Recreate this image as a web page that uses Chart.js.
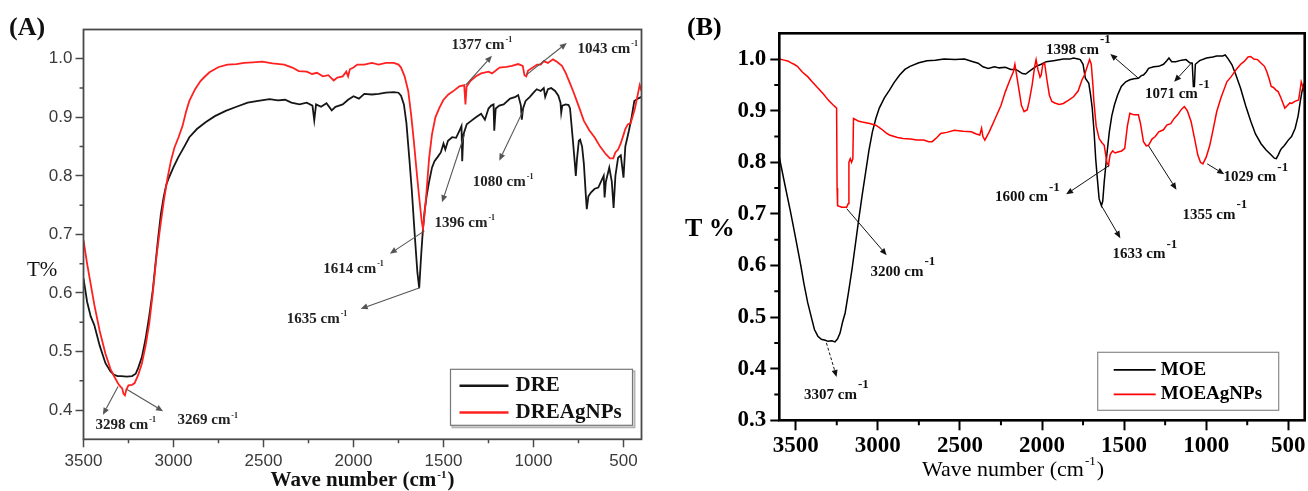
<!DOCTYPE html>
<html><head><meta charset="utf-8">
<script src="https://cdn.jsdelivr.net/npm/chart.js@4.4.1/dist/chart.umd.min.js"></script>
<style>
html,body{margin:0;padding:0;background:#fff;}
#wrap{position:relative;width:1308px;height:491px;overflow:hidden;}
#ca{position:absolute;left:0;top:0;}
#cb{position:absolute;left:650px;top:0;}
</style></head><body>
<div id="wrap"><canvas id="ca" width="650" height="491"></canvas><canvas id="cb" width="658" height="491"></canvas></div>
<script>
// ---------------- Panel (A) data ----------------
const dreWave = [3500,3480,3460,3440,3410,3378,3350,3330,3310,3290,3260,3230,3210,3196,3176,3156,3135,3115,3100,3085,3070,3054,3040,3024,3000,2973,2940,2912,2870,2820,2770,2710,2650,2588,2530,2466,2420,2380,2345,2300,2260,2228,2218,2208,2180,2150,2121,2100,2080,2060,2030,2000,1970,1940,1898,1860,1820,1776,1750,1736,1720,1706,1690,1676,1660,1645,1635,1625,1615,1605,1594,1580,1564,1550,1533,1515,1500,1490,1475,1452,1430,1410,1400,1396,1390,1371,1350,1320,1291,1270,1250,1235,1222,1218,1210,1190,1166,1130,1100,1085,1070,1065,1058,1044,1020,1000,982,960,943,935,920,902,880,862,850,846,840,821,805,797,781,770,765,758,748,741,730,720,710,704,695,680,660,640,625,610,605,598,579,565,555,545,530,515,500,490,470,455,440,420,400];
const dreT = [0.625,0.585,0.56,0.545,0.51,0.48,0.466,0.46,0.458,0.458,0.457,0.458,0.462,0.472,0.49,0.52,0.56,0.605,0.65,0.695,0.735,0.765,0.785,0.798,0.815,0.832,0.85,0.866,0.88,0.892,0.902,0.911,0.918,0.925,0.928,0.931,0.929,0.93,0.925,0.922,0.925,0.92,0.895,0.922,0.918,0.924,0.912,0.918,0.92,0.922,0.93,0.936,0.932,0.94,0.939,0.94,0.942,0.943,0.942,0.937,0.922,0.89,0.83,0.775,0.7,0.635,0.608,0.66,0.706,0.74,0.765,0.79,0.814,0.825,0.832,0.84,0.855,0.845,0.86,0.866,0.865,0.878,0.885,0.825,0.87,0.888,0.893,0.9,0.906,0.896,0.915,0.92,0.922,0.877,0.915,0.92,0.922,0.932,0.935,0.938,0.92,0.896,0.915,0.928,0.935,0.942,0.948,0.945,0.95,0.935,0.948,0.95,0.945,0.937,0.925,0.908,0.92,0.922,0.921,0.915,0.86,0.82,0.8,0.83,0.86,0.862,0.85,0.82,0.77,0.743,0.765,0.772,0.778,0.78,0.79,0.8,0.763,0.79,0.814,0.79,0.745,0.8,0.831,0.835,0.797,0.85,0.877,0.9,0.928,0.932,0.935];
const dreAgWave = [3500,3480,3460,3440,3410,3378,3350,3327,3307,3295,3285,3278,3270,3262,3250,3230,3216,3196,3176,3155,3135,3115,3095,3075,3054,3034,3014,2995,2973,2950,2930,2912,2880,2850,2831,2800,2749,2700,2650,2608,2560,2507,2450,2385,2340,2304,2260,2230,2203,2170,2140,2110,2090,2060,2040,2030,2020,2000,1979,1940,1898,1860,1820,1776,1750,1736,1716,1696,1680,1665,1650,1635,1622,1614,1605,1594,1580,1564,1545,1523,1500,1473,1440,1412,1385,1378,1372,1351,1320,1291,1250,1230,1189,1150,1120,1085,1060,1050,1040,1030,1004,980,960,943,920,892,870,842,820,800,780,750,720,690,659,630,598,575,557,545,530,516,500,490,476,460,436,420,410,400];
const dreAgT = [0.69,0.65,0.615,0.58,0.535,0.496,0.47,0.456,0.445,0.44,0.437,0.428,0.425,0.435,0.442,0.443,0.446,0.46,0.479,0.51,0.547,0.6,0.661,0.71,0.757,0.795,0.826,0.848,0.865,0.885,0.91,0.928,0.948,0.962,0.968,0.977,0.986,0.99,0.991,0.993,0.994,0.995,0.992,0.99,0.985,0.979,0.978,0.974,0.976,0.97,0.972,0.963,0.968,0.97,0.978,0.97,0.982,0.985,0.99,0.99,0.993,0.99,0.993,0.993,0.99,0.985,0.97,0.945,0.905,0.86,0.81,0.763,0.725,0.709,0.735,0.774,0.83,0.871,0.9,0.916,0.93,0.939,0.946,0.953,0.955,0.922,0.952,0.962,0.97,0.975,0.978,0.975,0.985,0.986,0.988,0.991,0.988,0.972,0.97,0.98,0.985,0.99,0.99,0.996,0.993,0.999,0.995,0.988,0.975,0.96,0.945,0.92,0.894,0.878,0.865,0.85,0.837,0.83,0.83,0.84,0.845,0.855,0.87,0.88,0.888,0.89,0.916,0.94,0.955,0.945];
const aXMajor = [500,1000,1500,2000,2500,3000,3500];
const aXMinor = [750,1250,1750,2250,2750,3250];
const aYMajor = [0.4,0.5,0.6,0.7,0.8,0.9,1.0];
const aYMinor = [0.45,0.55,0.65,0.75,0.85,0.95];
const aNotes = [
  {peak:'1377', at:[1308,1.024], from:[1377,0.955], to:[1231,1.005]},
  {peak:'1043', at:[609,1.016],  from:[1038,0.973], to:[815,1.027]},
  {peak:'1080', at:[1190,0.789], from:[1058,0.911], to:[1190,0.826]},
  {peak:'1396', at:[1403,0.719], from:[1383,0.871], to:[1508,0.755]},
  {peak:'1614', at:[2021,0.641], from:[1606,0.706], to:[1798,0.667]},
  {peak:'1635', at:[2224,0.556], from:[1632,0.609], to:[1960,0.573]},
  {peak:'3298', at:[3287,0.374], from:[3308,0.44],  to:[3392,0.392]},
  {peak:'3269', at:[2831,0.382], from:[3258,0.435], to:[3058,0.398]}
];

// ---------------- Panel (B) data ----------------
const moeWave = [3600,3565,3531,3500,3469,3450,3427,3405,3386,3365,3344,3320,3303,3280,3261,3245,3230,3215,3199,3180,3157,3137,3116,3095,3074,3054,3033,3012,2991,2960,2929,2900,2867,2835,2804,2750,2700,2650,2597,2530,2472,2430,2389,2360,2327,2290,2260,2223,2190,2160,2140,2120,2099,2070,2036,2005,1974,1930,1870,1830,1808,1780,1767,1750,1736,1715,1704,1694,1683,1673,1662,1652,1638,1630,1621,1605,1590,1575,1559,1540,1517,1490,1465,1440,1413,1395,1382,1365,1351,1320,1289,1260,1240,1227,1210,1185,1150,1123,1100,1085,1078,1072,1066,1040,998,960,936,900,884,865,843,820,791,760,728,700,666,635,604,585,573,560,550,541,525,500,480,458,440,427,415,406,400];
const moeT = [0.81,0.755,0.703,0.652,0.6,0.565,0.528,0.5,0.476,0.463,0.457,0.455,0.453,0.454,0.452,0.458,0.469,0.49,0.508,0.545,0.593,0.64,0.69,0.737,0.781,0.823,0.859,0.885,0.905,0.925,0.94,0.955,0.969,0.98,0.986,0.993,0.997,0.998,1.0,0.999,1.0,0.996,0.992,0.985,0.982,0.985,0.983,0.984,0.98,0.98,0.976,0.972,0.971,0.978,0.986,0.99,0.995,0.997,1.0,1.0,1.002,1.0,0.999,0.99,0.963,0.953,0.93,0.905,0.86,0.807,0.765,0.729,0.716,0.725,0.762,0.815,0.859,0.89,0.911,0.93,0.947,0.956,0.96,0.962,0.963,0.968,0.969,0.975,0.982,0.985,0.986,0.99,0.997,1.002,0.995,0.995,0.998,0.999,0.993,0.992,0.947,0.947,0.99,0.997,1.002,1.004,1.006,1.006,1.008,1.0,0.989,0.97,0.944,0.91,0.879,0.855,0.836,0.824,0.814,0.808,0.807,0.815,0.822,0.827,0.832,0.843,0.85,0.866,0.89,0.918,0.94,0.95,0.955];
const moeAgWave = [3600,3570,3545,3531,3510,3490,3460,3427,3400,3365,3330,3303,3275,3251,3248,3245,3220,3190,3180,3176,3168,3160,3152,3148,3120,3095,3050,3012,2980,2950,2929,2880,2846,2800,2763,2720,2690,2669,2640,2617,2580,2534,2480,2431,2400,2379,2368,2360,2348,2320,2285,2250,2223,2195,2175,2165,2155,2140,2125,2109,2090,2078,2060,2045,2036,2025,2012,2005,1995,1984,1970,1955,1940,1922,1895,1870,1840,1808,1780,1756,1740,1725,1710,1700,1690,1684,1670,1652,1635,1621,1605,1595,1585,1570,1555,1538,1515,1496,1480,1465,1440,1413,1400,1382,1365,1351,1330,1310,1289,1260,1240,1216,1195,1174,1150,1133,1115,1092,1070,1051,1035,1020,1000,978,960,936,910,874,850,812,790,770,745,729,710,687,665,645,630,615,604,590,575,562,545,521,505,490,479,460,437,428,421,415,406,400];
const moeAgT = [1.0,0.998,0.996,0.993,0.99,0.986,0.975,0.966,0.956,0.944,0.932,0.921,0.912,0.905,0.75,0.716,0.713,0.713,0.72,0.8,0.807,0.8,0.807,0.885,0.88,0.878,0.875,0.872,0.865,0.857,0.853,0.848,0.846,0.845,0.843,0.843,0.84,0.84,0.848,0.856,0.858,0.862,0.86,0.859,0.855,0.853,0.866,0.85,0.843,0.86,0.885,0.91,0.937,0.96,0.975,0.99,0.97,0.94,0.91,0.898,0.902,0.918,0.95,0.985,0.999,0.98,0.965,0.969,0.99,0.992,0.96,0.93,0.918,0.915,0.912,0.914,0.92,0.927,0.938,0.96,0.97,0.985,0.999,0.99,0.95,0.918,0.87,0.846,0.838,0.833,0.8,0.794,0.815,0.822,0.818,0.82,0.822,0.827,0.87,0.895,0.892,0.892,0.875,0.84,0.832,0.833,0.845,0.85,0.859,0.863,0.872,0.875,0.885,0.892,0.903,0.908,0.9,0.879,0.845,0.814,0.8,0.797,0.81,0.833,0.86,0.898,0.925,0.956,0.965,0.982,0.99,0.995,1.004,1.005,1.0,0.999,0.992,0.986,0.975,0.96,0.947,0.945,0.94,0.937,0.925,0.905,0.91,0.915,0.914,0.918,0.921,0.94,0.956,0.95,0.94,0.945];
const bXMajor = [500,1000,1500,2000,2500,3000,3500];
const bXMinor = [750,1250,1750,2250,2750,3250];
const bYMajor = [0.3,0.4,0.5,0.6,0.7,0.8,0.9,1.0];
const bYMinor = [0.35,0.45,0.55,0.65,0.75,0.85,0.95];
const bNotes = [
  {peak:'1398', at:[1814,1.018], from:[1413,0.963], to:[1584,1.01]},
  {peak:'1071', at:[1212,0.932], from:[1091,0.992], to:[1195,0.956]},
  {peak:'1029', at:[734,0.771],  from:[994,0.797],  to:[890,0.777]},
  {peak:'1355', at:[983,0.698],  from:[1351,0.832], to:[1181,0.747]},
  {peak:'1600', at:[2125,0.732], from:[1590,0.794], to:[1853,0.738]},
  {peak:'1633', at:[1409,0.622], from:[1638,0.716], to:[1523,0.653]},
  {peak:'3200', at:[2883,0.588], from:[3189,0.71],  to:[2946,0.62]},
  {peak:'3307', at:[3288,0.349], from:[3313,0.45],  to:[3251,0.384], dashed:true}
];

// ---------------- helpers ----------------
const SERIF = "'Liberation Serif','Times New Roman',serif";
const SANS = "'Liberation Sans',Arial,sans-serif";
const pts = (xs, ys) => xs.map((x, i) => ({x: x, y: ys[i]}));

function arrow(ctx, x1, y1, x2, y2, color, lw, dashed) {
  ctx.save();
  ctx.strokeStyle = color; ctx.fillStyle = color; ctx.lineWidth = lw;
  const a = Math.atan2(y2 - y1, x2 - x1), hl = 7, hw = 3;
  const bx = x2 - hl * Math.cos(a), by = y2 - hl * Math.sin(a);
  if (dashed) ctx.setLineDash([3, 2]);
  ctx.beginPath(); ctx.moveTo(x1, y1); ctx.lineTo(bx, by); ctx.stroke();
  ctx.setLineDash([]);
  ctx.beginPath(); ctx.moveTo(x2, y2);
  ctx.lineTo(bx + hw * Math.sin(a), by - hw * Math.cos(a));
  ctx.lineTo(bx - hw * Math.sin(a), by + hw * Math.cos(a));
  ctx.closePath(); ctx.fill();
  ctx.restore();
}
function rich(ctx, cx, cy, main, sup, tail, mf, sf, raise, centerAll, color) {
  ctx.save();
  ctx.fillStyle = color; ctx.textBaseline = 'middle'; ctx.textAlign = 'left';
  ctx.font = mf; const wm = ctx.measureText(main).width; const wt = tail ? ctx.measureText(tail).width : 0;
  ctx.font = sf; const ws = ctx.measureText(sup).width;
  const x0 = centerAll ? cx - (wm + ws + wt + 2) / 2 : cx - wm / 2;
  ctx.font = mf; ctx.fillText(main, x0, cy);
  ctx.font = sf; ctx.fillText(sup, x0 + wm + 1, cy - raise);
  if (tail) { ctx.font = mf; ctx.fillText(tail, x0 + wm + ws + 2, cy); }
  ctx.restore();
}
function minorTicks(ctx, sx, sy, xs, ys, ca, len, color, lw) {
  ctx.save(); ctx.strokeStyle = color; ctx.lineWidth = lw; ctx.beginPath();
  xs.forEach(v => { const p = sx.getPixelForValue(v); ctx.moveTo(p, ca.bottom); ctx.lineTo(p, ca.bottom + len); });
  ys.forEach(v => { const p = sy.getPixelForValue(v); ctx.moveTo(ca.left, p); ctx.lineTo(ca.left - len, p); });
  ctx.stroke(); ctx.restore();
}

function makeScales(o) {
  return {
    x: {
      type: 'linear', reverse: true, min: o.xmin, max: o.xmax,
      afterBuildTicks: s => { s.ticks = o.xMajor.map(v => ({value: v})); },
      afterFit: s => { s.height = o.xAxisH; },
      border: {display: false},
      grid: {drawOnChartArea: false, drawTicks: true, tickLength: o.xTickLen, tickColor: o.axisColor, tickWidth: o.tickW},
      ticks: {autoSkip: false, maxRotation: 0, padding: o.xPad, color: o.labelColor,
              font: o.tickFont, callback: v => String(v)}
    },
    y: {
      type: 'linear', min: o.ymin, max: o.ymax,
      afterBuildTicks: s => { s.ticks = o.yMajor.map(v => ({value: v})); },
      afterFit: s => { s.width = o.yAxisW; },
      border: {display: false},
      grid: {drawOnChartArea: false, drawTicks: true, tickLength: o.yTickLen, tickColor: o.axisColor, tickWidth: o.tickW},
      ticks: {autoSkip: false, padding: o.yPad, color: o.labelColor, font: o.tickFont,
              callback: v => Number(v).toFixed(1)}
    }
  };
}

// ---------------- Chart (A) ----------------
const decorA = {
  id: 'decorA',
  afterDraw(chart) {
    const {ctx, chartArea: ca, scales: {x, y}} = chart;
    ctx.save();
    ctx.strokeStyle = '#4a4a4a'; ctx.lineWidth = 1.8;
    ctx.strokeRect(ca.left, ca.top, ca.right - ca.left, ca.bottom - ca.top);
    minorTicks(ctx, x, y, aXMinor, aYMinor, ca, 4, '#4a4a4a', 1.5);
    ctx.fillStyle = '#111'; ctx.textBaseline = 'middle'; ctx.textAlign = 'left';
    ctx.font = 'bold 26px ' + SERIF; ctx.fillText('(A)', 9, 28);
    ctx.font = '21px ' + SERIF; ctx.fillText('T%', 27, 270);
    rich(ctx, (ca.left + ca.right) / 2, 481, 'Wave number (cm', '-1', ')', 'bold 21px ' + SERIF, 'bold 11px ' + SERIF, 6, true, '#111');
    // legend
    const lx = ca.right - 191, ly = ca.bottom - 70, lw = 182, lh = 56;
    ctx.strokeStyle = '#b5b5b5'; ctx.lineWidth = 2; ctx.strokeRect(lx + 2, ly + 2, lw, lh);
    ctx.fillStyle = '#fff'; ctx.fillRect(lx, ly, lw, lh);
    ctx.strokeStyle = '#777'; ctx.lineWidth = 1.2; ctx.strokeRect(lx, ly, lw, lh);
    chart.data.datasets.forEach((ds, i) => {
      const yy = ly + 16.5 + i * 26.7;
      ctx.strokeStyle = ds.borderColor; ctx.lineWidth = 2.4;
      ctx.beginPath(); ctx.moveTo(lx + 9, yy); ctx.lineTo(lx + 58, yy); ctx.stroke();
      ctx.fillStyle = '#111'; ctx.font = 'bold 21px ' + SERIF; ctx.textBaseline = 'middle';
      ctx.fillText(ds.label, lx + 65, yy);
    });
    aNotes.forEach(n => {
      arrow(ctx, x.getPixelForValue(n.from[0]), y.getPixelForValue(n.from[1]),
            x.getPixelForValue(n.to[0]), y.getPixelForValue(n.to[1]), '#555', 1.1, false);
      rich(ctx, x.getPixelForValue(n.at[0]), y.getPixelForValue(n.at[1]), n.peak + ' cm', '-1', '',
           'bold 15px ' + SERIF, 'bold 8px ' + SERIF, 5, false, '#222');
    });
    ctx.restore();
  }
};
new Chart(document.getElementById('ca'), {
  type: 'line',
  data: {datasets: [
    {label: 'DRE', data: pts(dreWave, dreT), borderColor: '#161616', borderWidth: 1.8, pointRadius: 0, tension: 0, order: 1},
    {label: 'DREAgNPs', data: pts(dreAgWave, dreAgT), borderColor: '#ff2020', borderWidth: 1.8, pointRadius: 0, tension: 0, order: 0}
  ]},
  options: {
    responsive: false, animation: false, devicePixelRatio: 1,
    layout: {padding: {left: 0, top: 29.5, right: 8.5, bottom: 0}},
    plugins: {legend: {display: false}, tooltip: {enabled: false}},
    scales: makeScales({xmin: 400, xmax: 3500, ymin: 0.35, ymax: 1.05, xMajor: aXMajor, yMajor: aYMajor,
      xAxisH: 51.7, yAxisW: 83.5, xTickLen: 8, yTickLen: 8, xPad: 4, yPad: 3, axisColor: '#4a4a4a', tickW: 1.5,
      labelColor: '#3a3a3a', tickFont: {family: SANS, size: 17}})
  },
  plugins: [decorA]
});

// ---------------- Chart (B) ----------------
const decorB = {
  id: 'decorB',
  afterDraw(chart) {
    const {ctx, chartArea: ca, scales: {x, y}} = chart;
    ctx.save();
    ctx.strokeStyle = '#000'; ctx.lineWidth = 2.6;
    ctx.strokeRect(ca.left, ca.top, ca.right - ca.left, ca.bottom - ca.top);
    minorTicks(ctx, x, y, bXMinor, bYMinor, ca, 5, '#000', 2);
    ctx.fillStyle = '#000'; ctx.textBaseline = 'middle'; ctx.textAlign = 'left';
    ctx.font = 'bold 26px ' + SERIF; ctx.fillText('(B)', 37, 28);
    ctx.font = 'bold 26px ' + SERIF; ctx.fillText('T %', 35, 229);
    rich(ctx, 363, 470, 'Wave number (cm', '-1', ')', '22px ' + SERIF, '13px ' + SERIF, 8, true, '#000');
    // legend
    const lx = ca.right - 207, ly = ca.bottom - 68, lw = 181, lh = 58;
    ctx.strokeStyle = '#8a8a8a'; ctx.lineWidth = 1.2; ctx.strokeRect(lx, ly, lw, lh);
    chart.data.datasets.forEach((ds, i) => {
      const yy = ly + 17.5 + i * 24.5;
      ctx.strokeStyle = ds.borderColor; ctx.lineWidth = 1.8;
      ctx.beginPath(); ctx.moveTo(lx + 16, yy); ctx.lineTo(lx + 58, yy); ctx.stroke();
      ctx.fillStyle = '#000'; ctx.font = 'bold 19px ' + SERIF; ctx.textBaseline = 'middle';
      ctx.fillText(ds.label, lx + 63, yy);
    });
    bNotes.forEach(n => {
      arrow(ctx, x.getPixelForValue(n.from[0]), y.getPixelForValue(n.from[1]),
            x.getPixelForValue(n.to[0]), y.getPixelForValue(n.to[1]), '#111', 1, !!n.dashed);
      rich(ctx, x.getPixelForValue(n.at[0]), y.getPixelForValue(n.at[1]), n.peak + ' cm', '-1', '',
           'bold 15px ' + SERIF, 'bold 13px ' + SERIF, 10, false, '#111');
    });
    ctx.restore();
  }
};
new Chart(document.getElementById('cb'), {
  type: 'line',
  data: {datasets: [
    {label: 'MOE', data: pts(moeWave, moeT), borderColor: '#000000', borderWidth: 1.5, pointRadius: 0, tension: 0, order: 1},
    {label: 'MOEAgNPs', data: pts(moeAgWave, moeAgT), borderColor: '#ff0000', borderWidth: 1.5, pointRadius: 0, tension: 0, order: 0}
  ]},
  options: {
    responsive: false, animation: false, devicePixelRatio: 1,
    layout: {padding: {left: 0, top: 33.3, right: 3.3, bottom: 0}},
    plugins: {legend: {display: false}, tooltip: {enabled: false}},
    scales: makeScales({xmin: 400, xmax: 3600, ymin: 0.3, ymax: 1.05, xMajor: bXMajor, yMajor: bYMajor,
      xAxisH: 70.7, yAxisW: 129.3, xTickLen: 10, yTickLen: 9, xPad: 2, yPad: 4, axisColor: '#000', tickW: 2,
      labelColor: '#000', tickFont: {family: SERIF, size: 23, weight: 'bold'}})
  },
  plugins: [decorB]
});
</script>
</body></html>
